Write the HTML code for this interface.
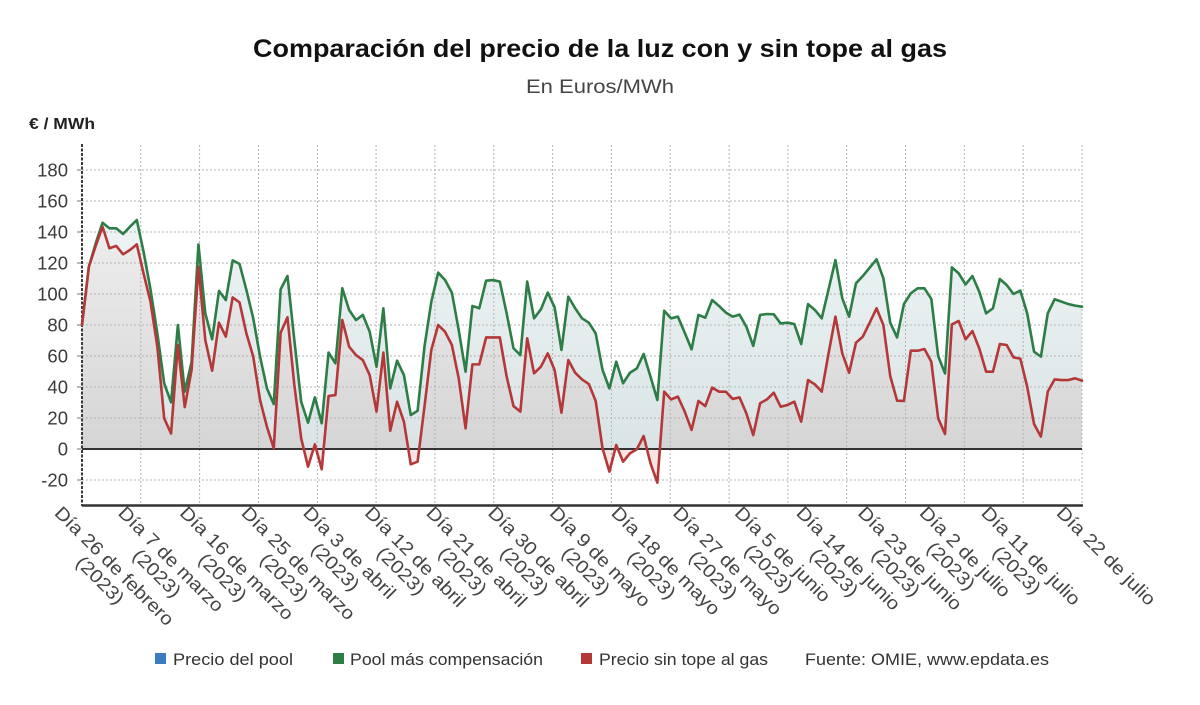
<!DOCTYPE html>
<html>
<head>
<meta charset="utf-8">
<style>
  html, body { margin: 0; padding: 0; background: #ffffff; }
  svg { display: block; }
</style>
</head>
<body>
<svg width="1200" height="705" viewBox="0 0 1200 705" xmlns="http://www.w3.org/2000/svg" font-family="'Liberation Sans', Arial, sans-serif">
  <rect x="0" y="0" width="1200" height="705" fill="#ffffff"/>

  <!-- Title -->
  <text x="600" y="57" text-anchor="middle" font-size="25" font-weight="bold" fill="#111" textLength="694" lengthAdjust="spacingAndGlyphs">Comparación del precio de la luz con y sin tope al gas</text>
  <text x="600" y="93" text-anchor="middle" font-size="19.5" fill="#444" textLength="148" lengthAdjust="spacingAndGlyphs">En Euros/MWh</text>

  <!-- Y axis title -->
  <text x="29" y="129" font-size="15.5" font-weight="bold" fill="#222" textLength="66" lengthAdjust="spacingAndGlyphs">€ / MWh</text>

  <defs>
    <linearGradient id="gG" gradientUnits="userSpaceOnUse" x1="0" y1="196.8" x2="0" y2="0">
      <stop offset="0" stop-color="#f5f9f9"/>
      <stop offset="1" stop-color="#dae4e6"/>
    </linearGradient>
    <linearGradient id="gR" gradientUnits="userSpaceOnUse" x1="0" y1="196.8" x2="0" y2="-36.1">
      <stop offset="0" stop-color="#f7f7f7"/>
      <stop offset="0.845" stop-color="#d5d5d5"/>
      <stop offset="0.846" stop-color="#f6e3e3"/>
      <stop offset="1" stop-color="#fbf1f1"/>
    </linearGradient>
  </defs>

  <!-- Areas (data coords) -->
  <g transform="translate(82,449) scale(6.849315,-1.55)">
    <polygon fill="url(#gG)" points="0,80 1,117.6 2,132.7 3,146 4,142.4 5,142.4 6,138.7 7,143.4 8,147.7 9,127 10,103 11,74.6 12,42.4 13,30.1 14,80 15,37 16,56.3 17,132 18,87.5 19,70.8 20,102 21,96.1 22,121.7 23,119.4 24,102.6 25,84.3 26,59.6 27,39.1 28,29 29,103 30,111.6 31,70.3 32,30.5 33,17 34,33.3 35,16.6 36,62.2 37,55.3 38,103.7 39,89.7 40,83.2 41,86.5 42,75.7 43,53.1 44,90.8 45,39.1 46,57 47,47.7 48,21.9 49,24.7 50,66 51,95 52,113.8 53,109 54,100.9 55,76.8 56,49.9 57,92.3 58,90.8 59,108.6 60,109 61,108 62,87.5 63,65 64,60.6 65,108 66,84.3 67,90.1 68,100.9 69,91.4 70,63.9 71,98.3 72,90.8 73,84.3 74,81.5 75,74.6 76,51 77,39.1 78,56.3 79,42.4 80,49.2 81,52 82,61.3 83,46.7 84,31.6 85,89.2 86,84.3 87,85.4 88,75 89,64.3 90,86.5 91,84.7 92,96.1 93,92.3 94,88 95,85.4 96,86.7 97,78.9 98,66.5 99,86.5 100,87.1 101,86.9 102,81 103,81.5 104,80.6 105,67.7 106,93.5 107,89.7 108,84.3 109,103 110,121.9 111,97.2 112,85.4 113,106.9 114,111.6 115,117 116,122.4 117,110.1 118,81.5 119,72 120,93.5 121,100.4 122,103.7 123,103.7 124,96.8 125,60 126,48.8 127,117.2 128,113.3 129,106.2 130,111.6 131,101.5 132,87.5 133,90.8 134,109.7 135,105.8 136,100 137,102.2 138,87.5 139,62.8 140,59.6 141,87.5 142,96.6 143,95.1 144,93.5 145,92.5 146,91.8 146,0 0,0"/>
    <polygon fill="url(#gR)" points="0,80 1,117.6 2,131 3,143.4 4,129.5 5,131 6,125.6 7,128.4 8,132 9,113 10,95 11,66 12,19.8 13,10 14,67 15,27 16,51 17,117.6 18,70.3 19,50.5 20,81.5 21,72.5 22,97.8 23,94.6 24,74.6 25,59.6 26,31.6 27,14.4 28,0.4 29,75 30,85 31,41.3 32,6.9 33,-11.4 34,3 35,-13.1 36,34.2 37,34.8 38,83.2 39,66 40,60.6 41,57.4 42,47.7 43,24.1 44,62.2 45,11.8 46,30.5 47,17.6 48,-9.9 49,-8.2 50,27.3 51,63.9 52,80 53,75.7 54,67.1 55,45.6 56,13.3 57,54.6 58,54.6 59,72 60,72 61,72 62,46.7 63,27.7 64,24.1 65,71.4 66,48.8 67,53.1 68,61.7 69,51 70,23.4 71,57.4 72,49.2 73,44.9 74,41.9 75,31 76,0.4 77,-14.6 78,2.6 79,-8.2 80,-2.8 81,-0.2 82,8.4 83,-9.2 84,-21.7 85,37 86,32 87,33.8 88,24.1 89,12.3 90,31 91,27.7 92,39.6 93,37 94,37 95,32.3 96,33.3 97,23 98,9 99,29.5 100,32 101,36.3 102,27.3 103,28.4 104,30.5 105,17.6 106,44.5 107,41.7 108,37 109,61.7 110,85.4 111,61.7 112,49.2 113,68.6 114,72.5 115,81.5 116,90.8 117,80 118,47.1 119,31.2 120,31 121,63.4 122,63.4 123,64.5 124,56.3 125,19.8 126,9.7 127,80.4 128,82.6 129,70.8 130,76.1 131,64.9 132,49.9 133,49.9 134,67.7 135,67.1 136,59.1 137,58.3 138,40.2 139,16.1 140,8 141,37 142,44.9 143,44.5 144,44.5 145,45.6 146,44.1 146,0 0,0"/>
  </g>

  <!-- Grid -->
  <g stroke="#b3b3b3" stroke-width="1" stroke-dasharray="2,2" fill="none">
    <line x1="82" y1="170" x2="1082" y2="170"/>
    <line x1="82" y1="201" x2="1082" y2="201"/>
    <line x1="82" y1="232" x2="1082" y2="232"/>
    <line x1="82" y1="263" x2="1082" y2="263"/>
    <line x1="82" y1="294" x2="1082" y2="294"/>
    <line x1="82" y1="325" x2="1082" y2="325"/>
    <line x1="82" y1="356" x2="1082" y2="356"/>
    <line x1="82" y1="387" x2="1082" y2="387"/>
    <line x1="82" y1="418" x2="1082" y2="418"/>
    <line x1="82" y1="480" x2="1082" y2="480"/>
    <line x1="140.8" y1="145" x2="140.8" y2="505"/>
    <line x1="199.6" y1="145" x2="199.6" y2="505"/>
    <line x1="258.5" y1="145" x2="258.5" y2="505"/>
    <line x1="317.3" y1="145" x2="317.3" y2="505"/>
    <line x1="376.1" y1="145" x2="376.1" y2="505"/>
    <line x1="434.9" y1="145" x2="434.9" y2="505"/>
    <line x1="493.8" y1="145" x2="493.8" y2="505"/>
    <line x1="552.6" y1="145" x2="552.6" y2="505"/>
    <line x1="611.4" y1="145" x2="611.4" y2="505"/>
    <line x1="670.2" y1="145" x2="670.2" y2="505"/>
    <line x1="729.1" y1="145" x2="729.1" y2="505"/>
    <line x1="787.9" y1="145" x2="787.9" y2="505"/>
    <line x1="846.7" y1="145" x2="846.7" y2="505"/>
    <line x1="905.5" y1="145" x2="905.5" y2="505"/>
    <line x1="964.3" y1="145" x2="964.3" y2="505"/>
    <line x1="1023.2" y1="145" x2="1023.2" y2="505"/>
    <line x1="1082" y1="145" x2="1082" y2="505"/>
  </g>

  <!-- Zero line & axes -->
  <line x1="82" y1="449" x2="1082" y2="449" stroke="#333" stroke-width="2"/>
  <line x1="82" y1="505.5" x2="1083" y2="505.5" stroke="#333" stroke-width="2.5"/>
  <line x1="82" y1="144" x2="82" y2="506" stroke="#3a3a3a" stroke-width="2" stroke-dasharray="3,1.5"/>

  <!-- Y ticks -->
  <g stroke="#777" stroke-width="1">
    <line x1="77" y1="170" x2="81" y2="170"/>
    <line x1="77" y1="201" x2="81" y2="201"/>
    <line x1="77" y1="232" x2="81" y2="232"/>
    <line x1="77" y1="263" x2="81" y2="263"/>
    <line x1="77" y1="294" x2="81" y2="294"/>
    <line x1="77" y1="325" x2="81" y2="325"/>
    <line x1="77" y1="356" x2="81" y2="356"/>
    <line x1="77" y1="387" x2="81" y2="387"/>
    <line x1="77" y1="418" x2="81" y2="418"/>
    <line x1="77" y1="449" x2="81" y2="449"/>
    <line x1="77" y1="480" x2="81" y2="480"/>
  </g>
  <g font-size="18.5" fill="#3a3a3a" text-anchor="end">
    <text x="68" y="176.6">180</text>
    <text x="68" y="207.6">160</text>
    <text x="68" y="238.6">140</text>
    <text x="68" y="269.6">120</text>
    <text x="68" y="300.6">100</text>
    <text x="68" y="331.6">80</text>
    <text x="68" y="362.6">60</text>
    <text x="68" y="393.6">40</text>
    <text x="68" y="424.6">20</text>
    <text x="68" y="455.6">0</text>
    <text x="68" y="486.6">-20</text>
  </g>

  <!-- Lines -->
  <g transform="translate(82,449) scale(6.849315,-1.55)" fill="none" stroke-linejoin="round" stroke-linecap="round">
    <polyline vector-effect="non-scaling-stroke" stroke="#2d7d46" stroke-width="2.6" points="0,80 1,117.6 2,132.7 3,146 4,142.4 5,142.4 6,138.7 7,143.4 8,147.7 9,127 10,103 11,74.6 12,42.4 13,30.1 14,80 15,37 16,56.3 17,132 18,87.5 19,70.8 20,102 21,96.1 22,121.7 23,119.4 24,102.6 25,84.3 26,59.6 27,39.1 28,29 29,103 30,111.6 31,70.3 32,30.5 33,17 34,33.3 35,16.6 36,62.2 37,55.3 38,103.7 39,89.7 40,83.2 41,86.5 42,75.7 43,53.1 44,90.8 45,39.1 46,57 47,47.7 48,21.9 49,24.7 50,66 51,95 52,113.8 53,109 54,100.9 55,76.8 56,49.9 57,92.3 58,90.8 59,108.6 60,109 61,108 62,87.5 63,65 64,60.6 65,108 66,84.3 67,90.1 68,100.9 69,91.4 70,63.9 71,98.3 72,90.8 73,84.3 74,81.5 75,74.6 76,51 77,39.1 78,56.3 79,42.4 80,49.2 81,52 82,61.3 83,46.7 84,31.6 85,89.2 86,84.3 87,85.4 88,75 89,64.3 90,86.5 91,84.7 92,96.1 93,92.3 94,88 95,85.4 96,86.7 97,78.9 98,66.5 99,86.5 100,87.1 101,86.9 102,81 103,81.5 104,80.6 105,67.7 106,93.5 107,89.7 108,84.3 109,103 110,121.9 111,97.2 112,85.4 113,106.9 114,111.6 115,117 116,122.4 117,110.1 118,81.5 119,72 120,93.5 121,100.4 122,103.7 123,103.7 124,96.8 125,60 126,48.8 127,117.2 128,113.3 129,106.2 130,111.6 131,101.5 132,87.5 133,90.8 134,109.7 135,105.8 136,100 137,102.2 138,87.5 139,62.8 140,59.6 141,87.5 142,96.6 143,95.1 144,93.5 145,92.5 146,91.8"/>
    <polyline vector-effect="non-scaling-stroke" stroke="#b43838" stroke-width="2.6" points="0,80 1,117.6 2,131 3,143.4 4,129.5 5,131 6,125.6 7,128.4 8,132 9,113 10,95 11,66 12,19.8 13,10 14,67 15,27 16,51 17,117.6 18,70.3 19,50.5 20,81.5 21,72.5 22,97.8 23,94.6 24,74.6 25,59.6 26,31.6 27,14.4 28,0.4 29,75 30,85 31,41.3 32,6.9 33,-11.4 34,3 35,-13.1 36,34.2 37,34.8 38,83.2 39,66 40,60.6 41,57.4 42,47.7 43,24.1 44,62.2 45,11.8 46,30.5 47,17.6 48,-9.9 49,-8.2 50,27.3 51,63.9 52,80 53,75.7 54,67.1 55,45.6 56,13.3 57,54.6 58,54.6 59,72 60,72 61,72 62,46.7 63,27.7 64,24.1 65,71.4 66,48.8 67,53.1 68,61.7 69,51 70,23.4 71,57.4 72,49.2 73,44.9 74,41.9 75,31 76,0.4 77,-14.6 78,2.6 79,-8.2 80,-2.8 81,-0.2 82,8.4 83,-9.2 84,-21.7 85,37 86,32 87,33.8 88,24.1 89,12.3 90,31 91,27.7 92,39.6 93,37 94,37 95,32.3 96,33.3 97,23 98,9 99,29.5 100,32 101,36.3 102,27.3 103,28.4 104,30.5 105,17.6 106,44.5 107,41.7 108,37 109,61.7 110,85.4 111,61.7 112,49.2 113,68.6 114,72.5 115,81.5 116,90.8 117,80 118,47.1 119,31.2 120,31 121,63.4 122,63.4 123,64.5 124,56.3 125,19.8 126,9.7 127,80.4 128,82.6 129,70.8 130,76.1 131,64.9 132,49.9 133,49.9 134,67.7 135,67.1 136,59.1 137,58.3 138,40.2 139,16.1 140,8 141,37 142,44.9 143,44.5 144,44.5 145,45.6 146,44.1"/>
  </g>

  <!-- X axis labels -->
  <g font-size="18.5" fill="#444">
    <g transform="translate(53.5,514) rotate(45)"><text x="0" y="0" textLength="159.7" lengthAdjust="spacingAndGlyphs">Día 26 de febrero</text><text x="79.85" y="20" text-anchor="middle" textLength="59.5" lengthAdjust="spacingAndGlyphs">(2023)</text></g>
    <g transform="translate(117.1,514) rotate(45)"><text x="0" y="0" textLength="140.2" lengthAdjust="spacingAndGlyphs">Día 7 de marzo</text><text x="70.1" y="20" text-anchor="middle" textLength="59.5" lengthAdjust="spacingAndGlyphs">(2023)</text></g>
    <g transform="translate(178.8,514) rotate(45)"><text x="0" y="0" textLength="151.7" lengthAdjust="spacingAndGlyphs">Día 16 de marzo</text><text x="75.85" y="20" text-anchor="middle" textLength="59.5" lengthAdjust="spacingAndGlyphs">(2023)</text></g>
    <g transform="translate(240.4,514) rotate(45)"><text x="0" y="0" textLength="151.7" lengthAdjust="spacingAndGlyphs">Día 25 de marzo</text><text x="75.85" y="20" text-anchor="middle" textLength="59.5" lengthAdjust="spacingAndGlyphs">(2023)</text></g>
    <g transform="translate(302.1,514) rotate(45)"><text x="0" y="0" textLength="121.9" lengthAdjust="spacingAndGlyphs">Día 3 de abril</text><text x="60.95" y="20" text-anchor="middle" textLength="59.5" lengthAdjust="spacingAndGlyphs">(2023)</text></g>
    <g transform="translate(363.7,514) rotate(45)"><text x="0" y="0" textLength="133.4" lengthAdjust="spacingAndGlyphs">Día 12 de abril</text><text x="66.7" y="20" text-anchor="middle" textLength="59.5" lengthAdjust="spacingAndGlyphs">(2023)</text></g>
    <g transform="translate(425.3,514) rotate(45)"><text x="0" y="0" textLength="133.4" lengthAdjust="spacingAndGlyphs">Día 21 de abril</text><text x="66.7" y="20" text-anchor="middle" textLength="59.5" lengthAdjust="spacingAndGlyphs">(2023)</text></g>
    <g transform="translate(487,514) rotate(45)"><text x="0" y="0" textLength="133.4" lengthAdjust="spacingAndGlyphs">Día 30 de abril</text><text x="66.7" y="20" text-anchor="middle" textLength="59.5" lengthAdjust="spacingAndGlyphs">(2023)</text></g>
    <g transform="translate(548.6,514) rotate(45)"><text x="0" y="0" textLength="133.4" lengthAdjust="spacingAndGlyphs">Día 9 de mayo</text><text x="66.7" y="20" text-anchor="middle" textLength="59.5" lengthAdjust="spacingAndGlyphs">(2023)</text></g>
    <g transform="translate(610.3,514) rotate(45)"><text x="0" y="0" textLength="144.8" lengthAdjust="spacingAndGlyphs">Día 18 de mayo</text><text x="72.4" y="20" text-anchor="middle" textLength="59.5" lengthAdjust="spacingAndGlyphs">(2023)</text></g>
    <g transform="translate(671.9,514) rotate(45)"><text x="0" y="0" textLength="144.8" lengthAdjust="spacingAndGlyphs">Día 27 de mayo</text><text x="72.4" y="20" text-anchor="middle" textLength="59.5" lengthAdjust="spacingAndGlyphs">(2023)</text></g>
    <g transform="translate(733.6,514) rotate(45)"><text x="0" y="0" textLength="126.5" lengthAdjust="spacingAndGlyphs">Día 5 de junio</text><text x="63.25" y="20" text-anchor="middle" textLength="59.5" lengthAdjust="spacingAndGlyphs">(2023)</text></g>
    <g transform="translate(795.2,514) rotate(45)"><text x="0" y="0" textLength="138" lengthAdjust="spacingAndGlyphs">Día 14 de junio</text><text x="69" y="20" text-anchor="middle" textLength="59.5" lengthAdjust="spacingAndGlyphs">(2023)</text></g>
    <g transform="translate(856.9,514) rotate(45)"><text x="0" y="0" textLength="138" lengthAdjust="spacingAndGlyphs">Día 23 de junio</text><text x="69" y="20" text-anchor="middle" textLength="59.5" lengthAdjust="spacingAndGlyphs">(2023)</text></g>
    <g transform="translate(918.5,514) rotate(45)"><text x="0" y="0" textLength="119.6" lengthAdjust="spacingAndGlyphs">Día 2 de julio</text><text x="59.8" y="20" text-anchor="middle" textLength="59.5" lengthAdjust="spacingAndGlyphs">(2023)</text></g>
    <g transform="translate(980.2,514) rotate(45)"><text x="0" y="0" textLength="131.1" lengthAdjust="spacingAndGlyphs">Día 11 de julio</text><text x="65.55" y="20" text-anchor="middle" textLength="59.5" lengthAdjust="spacingAndGlyphs">(2023)</text></g>
    <g transform="translate(1055.5,514) rotate(45)"><text x="0" y="0" textLength="131.1" lengthAdjust="spacingAndGlyphs">Día 22 de julio</text></g>
  </g>

  <!-- Legend -->
  <rect x="155" y="653" width="11" height="11" fill="#3b7dbf"/>
  <text x="173" y="665" font-size="16.5" fill="#333" textLength="120" lengthAdjust="spacingAndGlyphs">Precio del pool</text>
  <rect x="333" y="653" width="11" height="11" fill="#2d7d46"/>
  <text x="350" y="665" font-size="16.5" fill="#333" textLength="193" lengthAdjust="spacingAndGlyphs">Pool más compensación</text>
  <rect x="581" y="653" width="11" height="11" fill="#b43838"/>
  <text x="599" y="665" font-size="16.5" fill="#333" textLength="169" lengthAdjust="spacingAndGlyphs">Precio sin tope al gas</text>
  <text x="805" y="665" font-size="16.5" fill="#333" textLength="244" lengthAdjust="spacingAndGlyphs">Fuente: OMIE, www.epdata.es</text>
</svg>
</body>
</html>
